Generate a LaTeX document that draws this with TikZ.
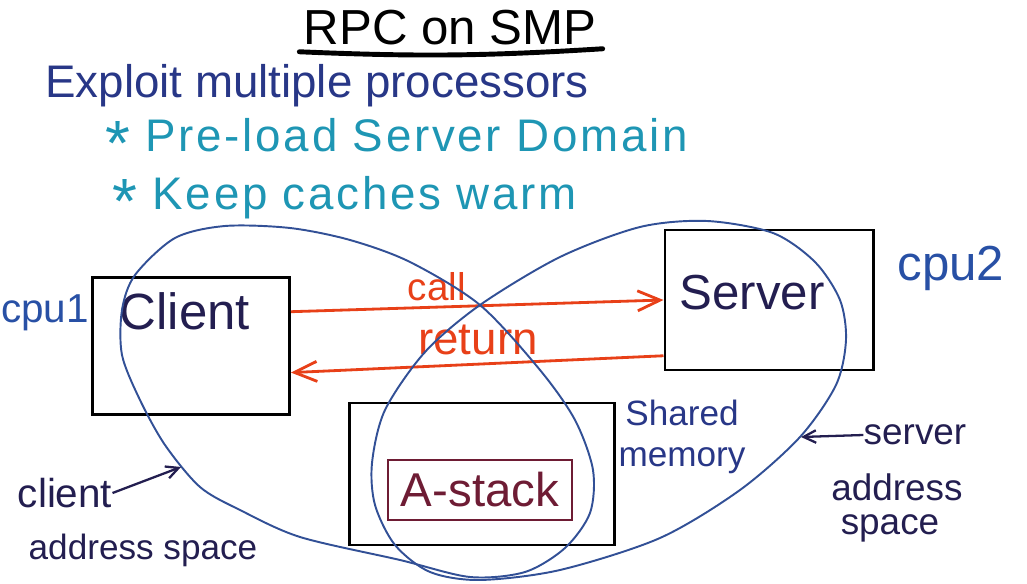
\documentclass[tikz,border=0pt]{standalone}
\usepackage{fontspec}
\setmainfont{Liberation Sans}
\usetikzlibrary{arrows.meta,calc,positioning}
\definecolor{inkblue}{RGB}{40,55,135}
\definecolor{inkteal}{RGB}{30,150,180}
\definecolor{inknavy}{RGB}{35,30,80}
\definecolor{inkred}{RGB}{232,64,24}
\definecolor{inkring}{RGB}{50,80,150}
\definecolor{inkcpu}{RGB}{40,80,165}
\definecolor{inkmaroon}{RGB}{110,28,52}
\newcommand{\starmark}{\raisebox{-0.3em}{\scalebox{1.4}{*}}}
\tikzset{msg/.style={-{Straight Barb[length=4.5mm,width=4mm]}, inkred, line width=1.6pt},
  ptr/.style={-{Straight Barb[length=2.5mm,width=2.5mm]}, inknavy, line width=1.3pt},
  box/.style={draw, line width=1.7pt, inner sep=0pt},
  ring/.style={inkring, line width=1.1pt},
  hand/.style={inner sep=0pt, font=\fontsize{#1}{#1}\selectfont},
  tip/.style={inner sep=0pt, inkteal, anchor=west, text height=0.72em, text depth=0.2em,
    font=\fontsize{26}{26}\selectfont\addfontfeature{LetterSpace=6}}}

\begin{document}
\begin{tikzpicture}[x=0.2mm, y=-0.2mm]
  \useasboundingbox (0,0) rectangle (1027,584);
  % heading and points
  \node[hand=28] (title) at (450,28) {RPC on SMP};
  \draw[line width=2.8pt, line cap=round] ($(title.south west)+(-4,6)$) to[bend right=3] ($(title.south east)+(6,3)$);
  \node[hand=26, inkblue, anchor=west] (goal) at (45,86) {Exploit multiple processors};
  \node[tip] (tipA) at (105,147) {\starmark\ Pre-load Server Domain};
  \node[tip] (tipB) at (112,205) {\starmark\ Keep caches warm};
  % boxes
  \node[box, minimum width=39.4mm, minimum height=27.4mm] (client) at (191,346) {};
  \node[box, minimum width=41.6mm, minimum height=28mm] (server) at (769,300) {};
  \node[box, minimum width=53mm, minimum height=28.4mm] (shm) at (482,474) {};
  \node[box, hand=27, draw=inkmaroon, text=inkmaroon, minimum width=36.8mm, minimum height=12mm] (astack) at (480,490) {A-stack};
  \node[hand=29, inknavy] (clientTxt) at (185,311) {Client};
  \node[hand=28, inknavy] (serverTxt) at (752,293) {Server};
  \node[hand=23, inkcpu] (cpuA) at (45,313) {cpu1};
  \node[hand=28, inkcpu] (cpuB) at (951,268) {cpu2};
  \node[inkblue, inner sep=0pt, align=center, font=\fontsize{20}{23}\selectfont] (shmTxt) at (682,437) {Shared\\memory};
  % call / return
  \draw[msg] ($(client.north east)!0.255!(client.south east)$) -- (server.west);
  \draw[msg] ($(server.north west)!0.89!(server.south west)$) -- ($(client.north east)!0.69!(client.south east)$);
  \node[hand=22, inkred] (callTxt) at (437,287) {call};
  \node[hand=26, inkred] (retTxt) at (478,340) {return};
  % address spaces
  \draw[ring] plot[smooth cycle] coordinates {(175,238) (225,226) (290,228) (350,240) (410,262) (480,305) (540,370) (575,420) (593,470) (590,513) (565,548) (525,572) (470,577) (400,560) (300,537) (240,510) (200,487) (165,445) (140,400) (122,355) (122,310) (135,275)};
  \draw[ring] plot[smooth cycle] coordinates {(640,227) (707,221) (773,233) (815,262) (840,300) (846,340) (836,385) (800,437) (740,490) (660,538) (560,570) (480,580) (430,572) (395,545) (375,505) (372,463) (385,410) (425,352) (480,305) (560,257)};
  \coordinate (srvEdge) at (801,437);
  \coordinate (cliEdge) at (181,467);
  \node[hand=21, inknavy] (srvLblA) at (915,435) {server};
  \node[hand=21, inknavy] (srvLblB) at (897,487) {address};
  \node[hand=21, inknavy] (srvLblC) at (890,528) {space};
  \node[hand=23, inknavy] (cliLblA) at (65,493) {client};
  \node[hand=20, inknavy] (cliLblB) at (143,550) {address space};
  \draw[ptr] (srvLblA.west) -- (srvEdge);
  \draw[ptr] (cliLblA.east) -- (cliEdge);
\end{tikzpicture}
\end{document}
